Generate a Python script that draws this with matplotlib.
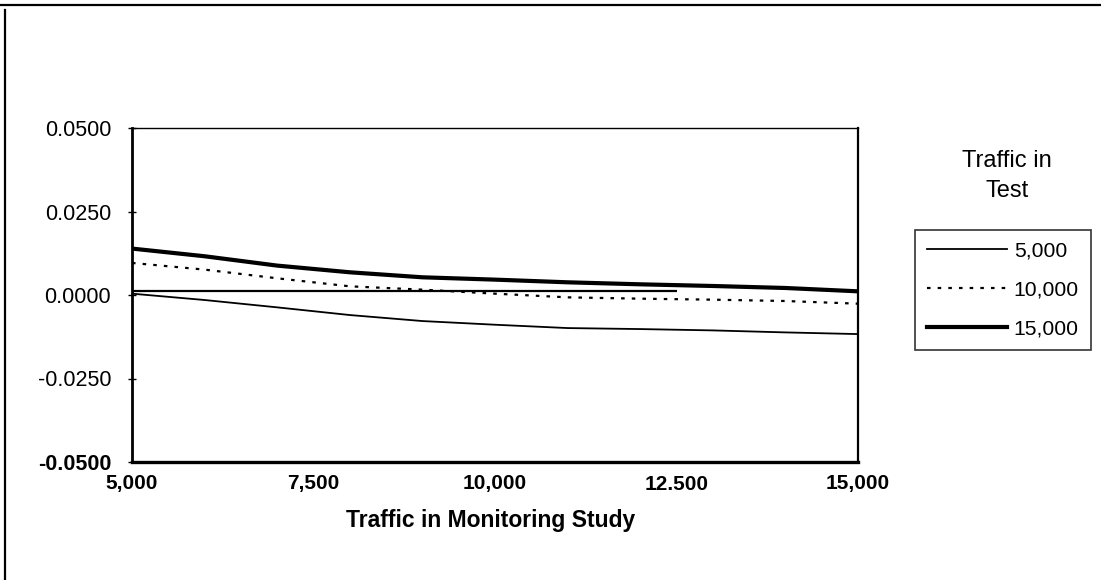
import matplotlib
matplotlib.use("Agg")
import matplotlib.pyplot as plt
from matplotlib.lines import Line2D

plt.rcParams['font.family'] = ['Liberation Sans', 'DejaVu Sans']

# ---- data ----
traffic_monitoring = [5000, 6000, 7000, 8000, 9000, 10000, 11000, 12000, 13000, 14000, 15000]
test_5000 = [0.0004, -0.0015, -0.0037, -0.0060, -0.0078, -0.0089, -0.0099, -0.0102, -0.0106, -0.0112, -0.0117]
test_10000 = [0.0096, 0.0076, 0.0050, 0.0026, 0.0016, 0.0004, -0.0007, -0.0011, -0.0014, -0.0018, -0.0026]
test_15000 = [0.0139, 0.0116, 0.0088, 0.0068, 0.0053, 0.0046, 0.0038, 0.0032, 0.0027, 0.0021, 0.0011]
zero_line_x = [5000, 12500]
zero_line_y = [0.0012, 0.0012]
series_labels = ['5,000', '10,000', '15,000']
x_ticks = [5000, 7500, 10000, 12500, 15000]
x_tick_labels = ['5,000', '7,500', '10,000', '12.500', '15,000']
y_ticks = [-0.05, -0.025, 0.0, 0.025, 0.05]
y_tick_labels = ['-0.0500', '-0.0250', '0.0000', '0.0250', '0.0500']

W, H = 1101, 580
fig = plt.figure(figsize=(W / 100, H / 100), dpi=100)
ax = fig.add_axes([132 / W, 1 - 462 / H, (858 - 132) / W, (462 - 128) / H])

ax.plot(zero_line_x, zero_line_y, color='black', lw=1.6, solid_capstyle='butt')
l1, = ax.plot(traffic_monitoring, test_5000, color='black', lw=1.3, label=series_labels[0])
l2, = ax.plot(traffic_monitoring, test_10000, color='black', lw=1.6,
              linestyle=(0, (1.6, 3.2)), label=series_labels[1])
l3, = ax.plot(traffic_monitoring, test_15000, color='black', lw=3.0, label=series_labels[2])

ax.set_xlim(5000, 15000)
ax.set_ylim(-0.05, 0.05)
ax.set_xticks(x_ticks)
ax.set_xticklabels(x_tick_labels, fontsize=15, fontweight='bold')
ax.set_yticks(y_ticks)
ax.set_yticklabels(y_tick_labels, fontsize=15.5)
for t in ax.get_yticklabels():
    if t.get_text() == '-0.0500':
        t.set_fontweight('bold')
ax.tick_params(axis='x', length=0, pad=9)
ax.tick_params(axis='y', direction='inout', length=6, width=1, pad=12)

ax.spines['left'].set_linewidth(2.0)
ax.spines['bottom'].set_linewidth(2.4)
ax.spines['top'].set_linewidth(1.0)
ax.spines['right'].set_linewidth(1.6)

fig.text(491 / W, 1 - 520 / H, 'Traffic in Monitoring Study', ha='center', va='center',
         fontsize=16.5, fontweight='bold')

# legend title
fig.text(1007 / W, 1 - 176 / H, 'Traffic in\nTest', ha='center', va='center',
         fontsize=17, linespacing=1.45)

leg = ax.legend(handles=[l1, l2, l3], loc='upper left',
                bbox_to_anchor=(915 / W, 1 - 230 / H), bbox_transform=fig.transFigure,
                fontsize=15.2, frameon=True, fancybox=False, handlelength=3.8,
                handletextpad=0.33, labelspacing=0.95, borderpad=0.55, borderaxespad=0)
leg.get_frame().set_edgecolor('black')
leg.get_frame().set_linewidth(1.2)

# outer frame lines (top and left)
fig.add_artist(Line2D([0, 1], [1 - 5 / H, 1 - 5 / H], transform=fig.transFigure,
                      color='black', lw=1.6))
fig.add_artist(Line2D([5 / W, 5 / W], [1 - 10 / H, 0], transform=fig.transFigure,
                      color='black', lw=1.6))

fig.savefig('out.png', dpi=100)
